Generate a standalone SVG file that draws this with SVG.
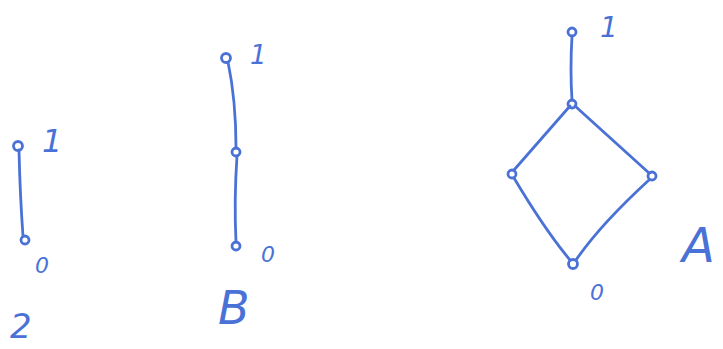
<svg xmlns="http://www.w3.org/2000/svg" width="723" height="349" viewBox="0 0 723 349">
<style>
.n{fill:none;stroke:#4a72d6;stroke-width:2.8}
.e{fill:none;stroke:#4a72d6;stroke-width:2.8;stroke-linecap:round}
.t{fill:#4a72d6;font-family:"DejaVu Sans",sans-serif;font-style:italic;font-weight:300}
</style>
<rect width="723" height="349" fill="#fff"/>
<g id="connectors">
<path class="e" d="M19 150 Q20 195 23 236"/>
<path class="e" d="M228 62 Q236 100 236 148"/>
<path class="e" d="M237 156 Q234 200 236 242"/>
<path class="e" d="M572 36 Q570 70 572 100"/>
<path class="e" d="M570 106 L514 170"/>
<path class="e" d="M514 178 Q545 230 570 260"/>
<path class="e" d="M575 106 L649 173"/>
<path class="e" d="M649 180 Q600 225 576 260"/>
</g>
<g id="d1-top"><circle class="n" cx="18" cy="146" r="4.5"/><text class="t" x="42" y="152" font-size="32">1</text></g>
<g id="d1-bottom"><circle class="n" cx="25" cy="240" r="4"/><text class="t" x="35" y="273" font-size="22">0</text></g>
<g id="d1-label"><text class="t" x="10" y="338" font-size="34">2</text></g>
<g id="d2-top"><circle class="n" cx="226" cy="58" r="4.5"/><text class="t" x="250" y="64" font-size="26">1</text></g>
<g id="d2-middle"><circle class="n" cx="236" cy="152" r="4"/></g>
<g id="d2-bottom"><circle class="n" cx="236" cy="246" r="4"/><text class="t" x="261" y="262" font-size="22">0</text></g>
<g id="d2-label"><text class="t" x="218" y="324" font-size="46">B</text></g>
<g id="d3-top"><circle class="n" cx="572" cy="32" r="4"/><text class="t" x="600" y="37" font-size="28">1</text></g>
<g id="d3-middle"><circle class="n" cx="572" cy="104" r="4"/></g>
<g id="d3-left"><circle class="n" cx="512" cy="174" r="4"/></g>
<g id="d3-right"><circle class="n" cx="652" cy="176" r="4"/></g>
<g id="d3-bottom"><circle class="n" cx="573" cy="264" r="4.5"/><text class="t" x="590" y="300" font-size="22">0</text></g>
<g id="d3-label"><text class="t" x="682" y="262" font-size="48">A</text></g>
</svg>
